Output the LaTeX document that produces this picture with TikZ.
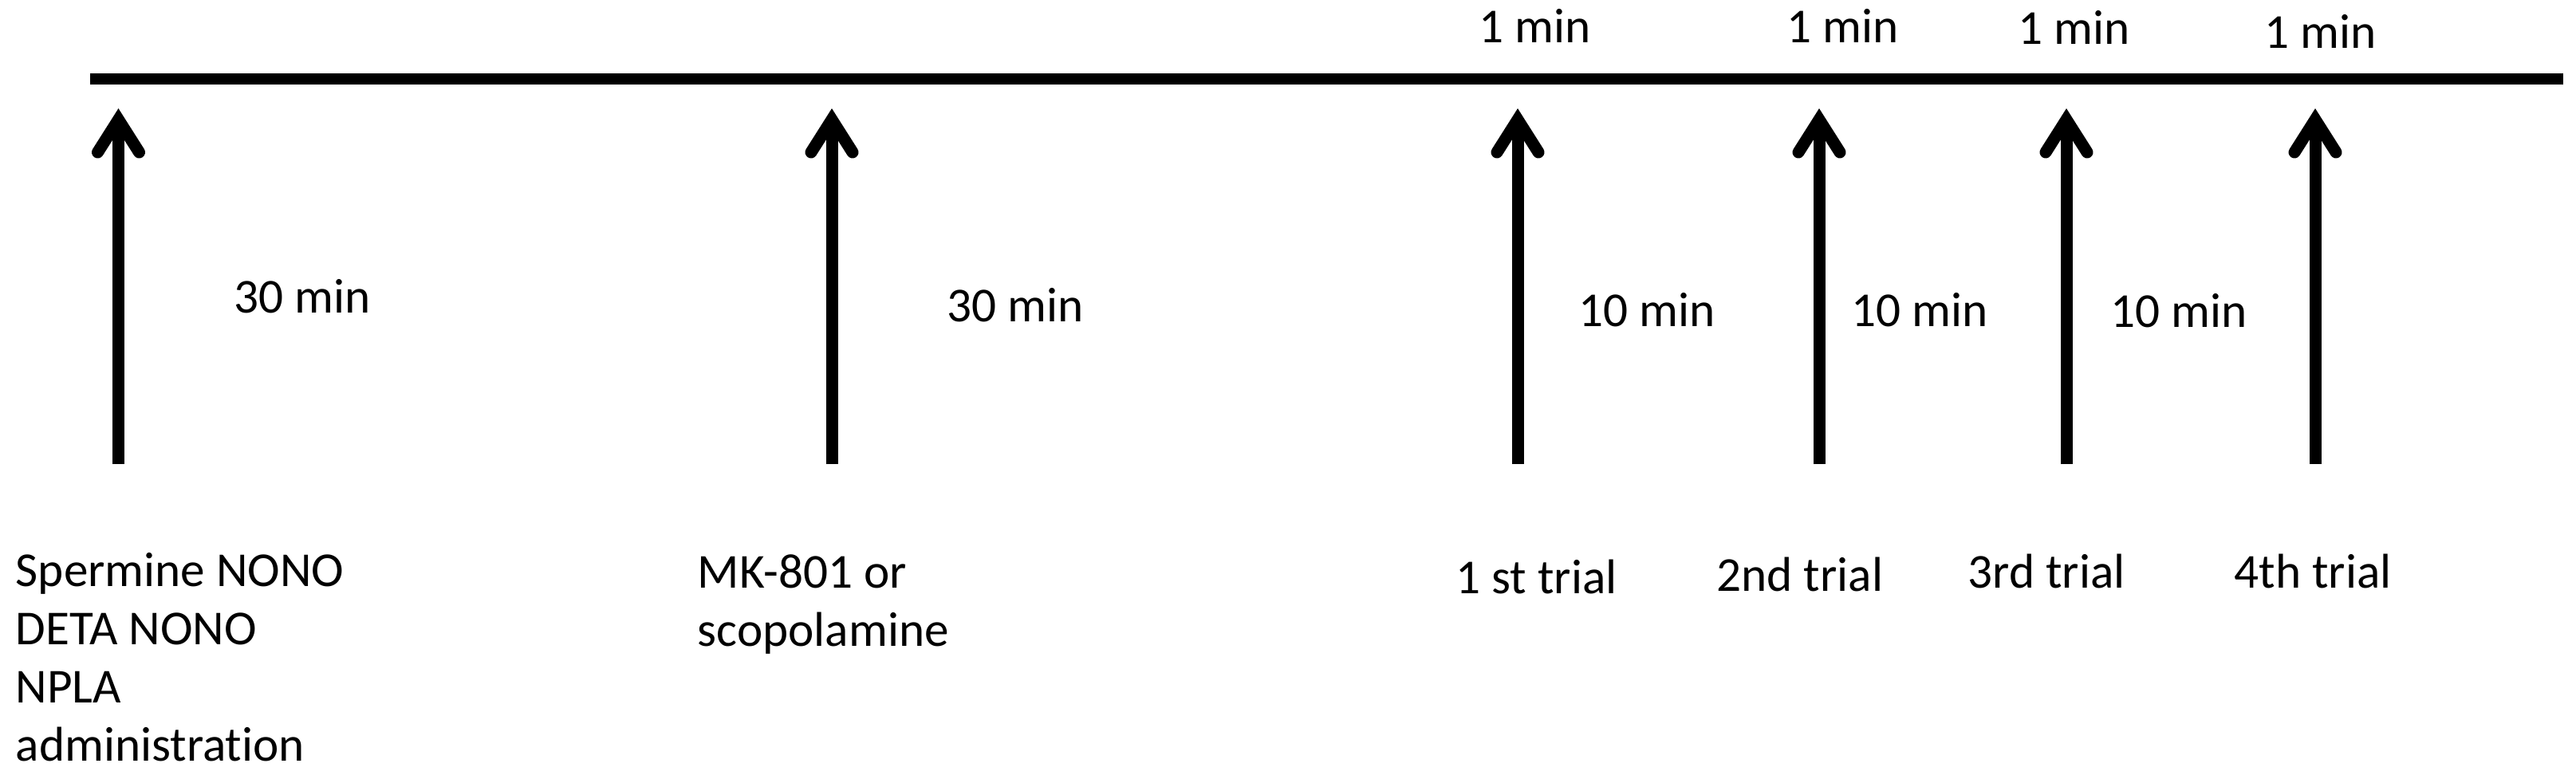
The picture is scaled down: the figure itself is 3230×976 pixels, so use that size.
\documentclass[tikz,border=0pt]{standalone}
\usepackage{fontspec}
\setmainfont{Carlito}[Ligatures={NoCommon}]
\usetikzlibrary{calc}
\begin{document}
\begin{tikzpicture}[x=0.25pt,y=-0.25pt,
  lbl/.style={anchor=base west, inner sep=0pt, font=\fontsize{15.3pt}{18.25pt}\selectfont},
  axisline/.style={line width=3.6pt, line cap=butt},
  shaft/.style={line width=3.75pt, line cap=butt},
  barb/.style={line width=3.75pt, line cap=round, line join=miter}]
\useasboundingbox (0,0) rectangle (3230,976);
% timeline
\coordinate (tl0) at (113,99);
\coordinate (tl1) at (3214,99);
\draw[axisline] (tl0) -- (tl1);
% arrows
\foreach \n/\x in {1/148.5,2/1043,3/1903,4/2281,5/2591,6/2903}{
  \coordinate (b\n) at (\x,582);
  \coordinate (t\n) at (\x,150);
  \draw[shaft] (b\n) -- (t\n);
  \draw[barb] ($(t\n)+(-26,41)$) -- (t\n) -- ($(t\n)+(26,41)$);
}
% labels below
\node[lbl] (drugA) at (19,735) {\begin{tabular}[t]{@{}l@{}}Spermine NONO\\DETA NONO\\NPLA\\administration\end{tabular}};
\node[lbl] (drugB) at (874,737) {\begin{tabular}[t]{@{}l@{}}MK-801 or\\scopolamine\end{tabular}};
\node[lbl] (tr1) at (1825,744) {1 st trial};
\node[lbl] (tr2) at (2152,741) {2nd trial};
\node[lbl] (tr3) at (2467,737) {3rd trial};
\node[lbl] (tr4) at (2801,737) {4th trial};
% interval labels
\node[lbl] (i1) at (293,392) {30 min};
\node[lbl] (i2) at (1187,403) {30 min};
\node[lbl] (i3) at (1979,409) {10 min};
\node[lbl] (i4) at (2321,409) {10 min};
\node[lbl] (i5) at (2646,410) {10 min};
% top labels
\node[lbl] (m1) at (1854,53) {1 min};
\node[lbl] (m2) at (2240,53) {1 min};
\node[lbl] (m3) at (2530,55) {1 min};
\node[lbl] (m4) at (2839,60) {1 min};
\end{tikzpicture}
\end{document}
